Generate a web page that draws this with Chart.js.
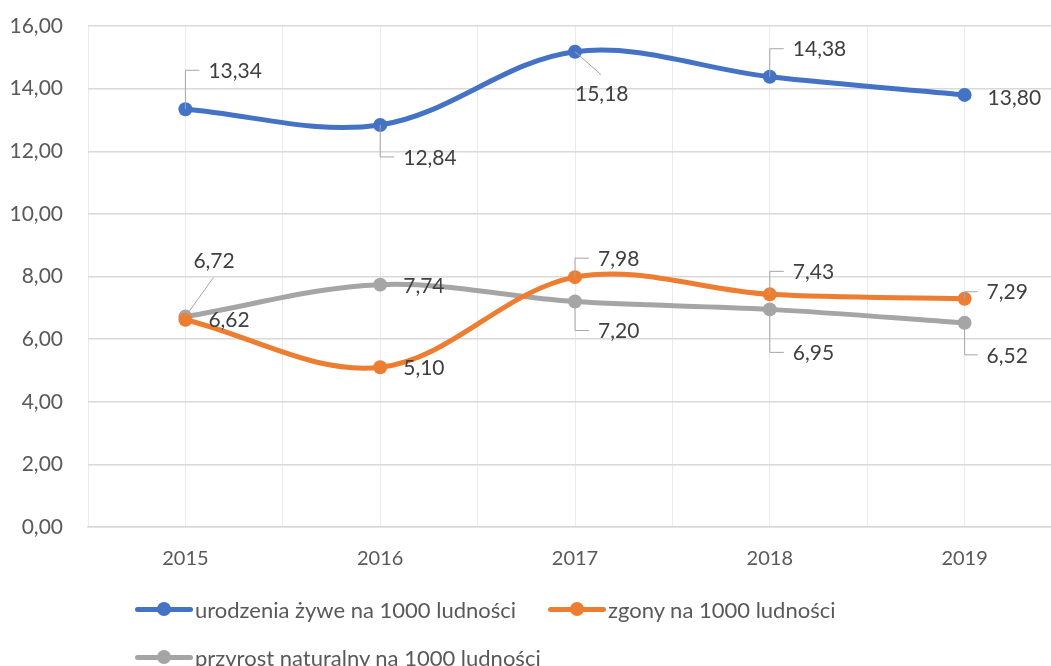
<!DOCTYPE html>
<html>
<head>
<meta charset="utf-8">
<script src="https://cdn.jsdelivr.net/npm/chart.js@4/dist/chart.umd.min.js"></script>
<style>
  body { margin: 0; background: #fff; overflow: hidden; width: 1051px; height: 666px; position: relative; }
  canvas { position: absolute; left: 0; top: 0; }
  .leg { position: absolute; display: flex; align-items: center; height: 26px; font: 22px Lato, sans-serif; color: #595959; white-space: nowrap; }
  .mark { position: relative; width: 58px; height: 26px; margin-right: 2px; }
  .mark i { position: absolute; left: 0; right: 0; top: 10.5px; height: 5px; border-radius: 3px; }
  .mark b { position: absolute; left: 22px; top: 6px; width: 14px; height: 14px; border-radius: 50%; }
</style>
</head>
<body>
<canvas id="chart" width="1063" height="666"></canvas>
<div id="legend"></div>
<script>
const years = ['2015', '2016', '2017', '2018', '2019'];
const births = [13.34, 12.84, 15.18, 14.38, 13.80];
const deaths = [6.62, 5.10, 7.98, 7.43, 7.29];
const growth = [6.72, 7.74, 7.20, 6.95, 6.52];
const yTicks = [0, 2, 4, 6, 8, 10, 12, 14, 16];

const seriesNames = ['urodzenia żywe na 1000 ludności', 'zgony na 1000 ludności', 'przyrost naturalny na 1000 ludności'];
const colors = ['#4472C4', '#ED7D31', '#A5A5A5'];

// label placement per point: text left/centre offset from the point, leader style
const labelLayout = [
  [{ dx: 23, dy: -38, lead: 'up' }, { dx: 23, dy: 33, lead: 'down' }, { dx: 0, dy: 43, lead: 'diag', lx: 26, ly: 23 }, { dx: 23, dy: -27, lead: 'up' }, { dx: 23, dy: 3 }],
  [{ dx: 23, dy: 1 }, { dx: 23, dy: 1 }, { dx: 23, dy: -18, lead: 'up' }, { dx: 23, dy: -22, lead: 'up' }, { dx: 22, dy: -6, lead: 'up' }],
  [{ dx: 8, dy: -55, lead: 'diag', lx: 28, ly: -39 }, { dx: 23, dy: 2 }, { dx: 23, dy: 30, lead: 'down' }, { dx: 23, dy: 44, lead: 'down' }, { dx: 22, dy: 33, lead: 'down' }]
];

const fmt = v => v.toFixed(2).replace('.', ',');

const dataLabels = {
  id: 'dataLabels',
  afterDatasetsDraw(chart) {
    const ctx = chart.ctx;
    ctx.save();
    ctx.font = '21px Lato, sans-serif';
    ctx.textBaseline = 'middle';
    ctx.textAlign = 'left';
    chart.data.datasets.forEach((ds, si) => {
      chart.getDatasetMeta(si).data.forEach((pt, i) => {
        const l = labelLayout[si][i];
        const tx = pt.x + l.dx, ty = pt.y + l.dy;
        ctx.strokeStyle = '#A6A6A6';
        ctx.lineWidth = 1;
        if (l.lead === 'up' || l.lead === 'down') {
          const ly = ty - 1;
          ctx.beginPath();
          ctx.moveTo(pt.x, pt.y);
          ctx.lineTo(pt.x, ly);
          ctx.lineTo(tx - 9, ly);
          ctx.stroke();
        } else if (l.lead === 'diag') {
          ctx.beginPath();
          ctx.moveTo(pt.x, pt.y);
          ctx.lineTo(pt.x + l.lx, pt.y + l.ly);
          ctx.stroke();
        }
        ctx.fillStyle = '#404040';
        ctx.fillText(fmt(ds.data[i].y), tx, ty);
      });
    });
    ctx.restore();
  }
};

const makeSet = (name, values, color) => ({
  label: name,
  data: values.map((v, i) => ({ x: i, y: v })),
  borderColor: color,
  backgroundColor: color,
  borderWidth: 5,
  pointRadius: 7,
  pointBorderWidth: 0,
  pointBackgroundColor: color,
  tension: 0.35,
  borderCapStyle: 'round'
});

new Chart(document.getElementById('chart'), {
  type: 'line',
  data: {
    datasets: [
      makeSet(seriesNames[0], births, colors[0]),
      makeSet(seriesNames[1], deaths, colors[1]),
      makeSet(seriesNames[2], growth, colors[2])
    ]
  },
  options: {
    responsive: false,
    animation: false,
    layout: { autoPadding: false, padding: { top: 26, right: 1, left: 0, bottom: 0 } },
    plugins: { legend: { display: false }, tooltip: { enabled: false } },
    scales: {
      x: {
        type: 'linear',
        min: -0.5,
        max: years.length - 0.5,
        afterFit: s => { s.height = 139; s.paddingLeft = 0; s.paddingRight = 0; },
        afterBuildTicks: s => {
          const t = [];
          for (let k = 0; k <= years.length * 2; k++) t.push({ value: -0.5 + k * 0.5 });
          s.ticks = t;
        },
        ticks: {
          autoSkip: false,
          maxRotation: 0,
          padding: 20,
          color: '#595959',
          font: { family: 'Lato', size: 20 },
          callback: v => (Math.abs(v - Math.round(v)) < 1e-6 ? years[Math.round(v)] : '')
        },
        grid: { color: '#EBEBEB', drawTicks: false },
        border: { color: '#D9D9D9', width: 1.5 }
      },
      y: {
        min: 0,
        max: 16,
        afterFit: s => { s.width = 88; s.paddingTop = 0; s.paddingBottom = 0; },
        afterBuildTicks: s => { s.ticks = yTicks.map(v => ({ value: v })); },
        ticks: {
          padding: 25,
          color: '#595959',
          font: { family: 'Lato', size: 21 },
          callback: v => fmt(v)
        },
        grid: { color: '#D9D9D9', lineWidth: 1.5, drawTicks: false },
        border: { display: false }
      }
    }
  },
  plugins: [dataLabels]
});

// legend, laid out like the original: two left-aligned rows
const legendPos = [[135, 596], [548, 596], [135, 644]];
const legend = document.getElementById('legend');
seriesNames.forEach((name, i) => {
  const el = document.createElement('div');
  el.className = 'leg';
  el.style.left = legendPos[i][0] + 'px';
  el.style.top = legendPos[i][1] + 'px';
  el.innerHTML = `<span class="mark"><i style="background:${colors[i]}"></i><b style="background:${colors[i]}"></b></span>${name}`;
  legend.appendChild(el);
});
</script>
</body>
</html>
